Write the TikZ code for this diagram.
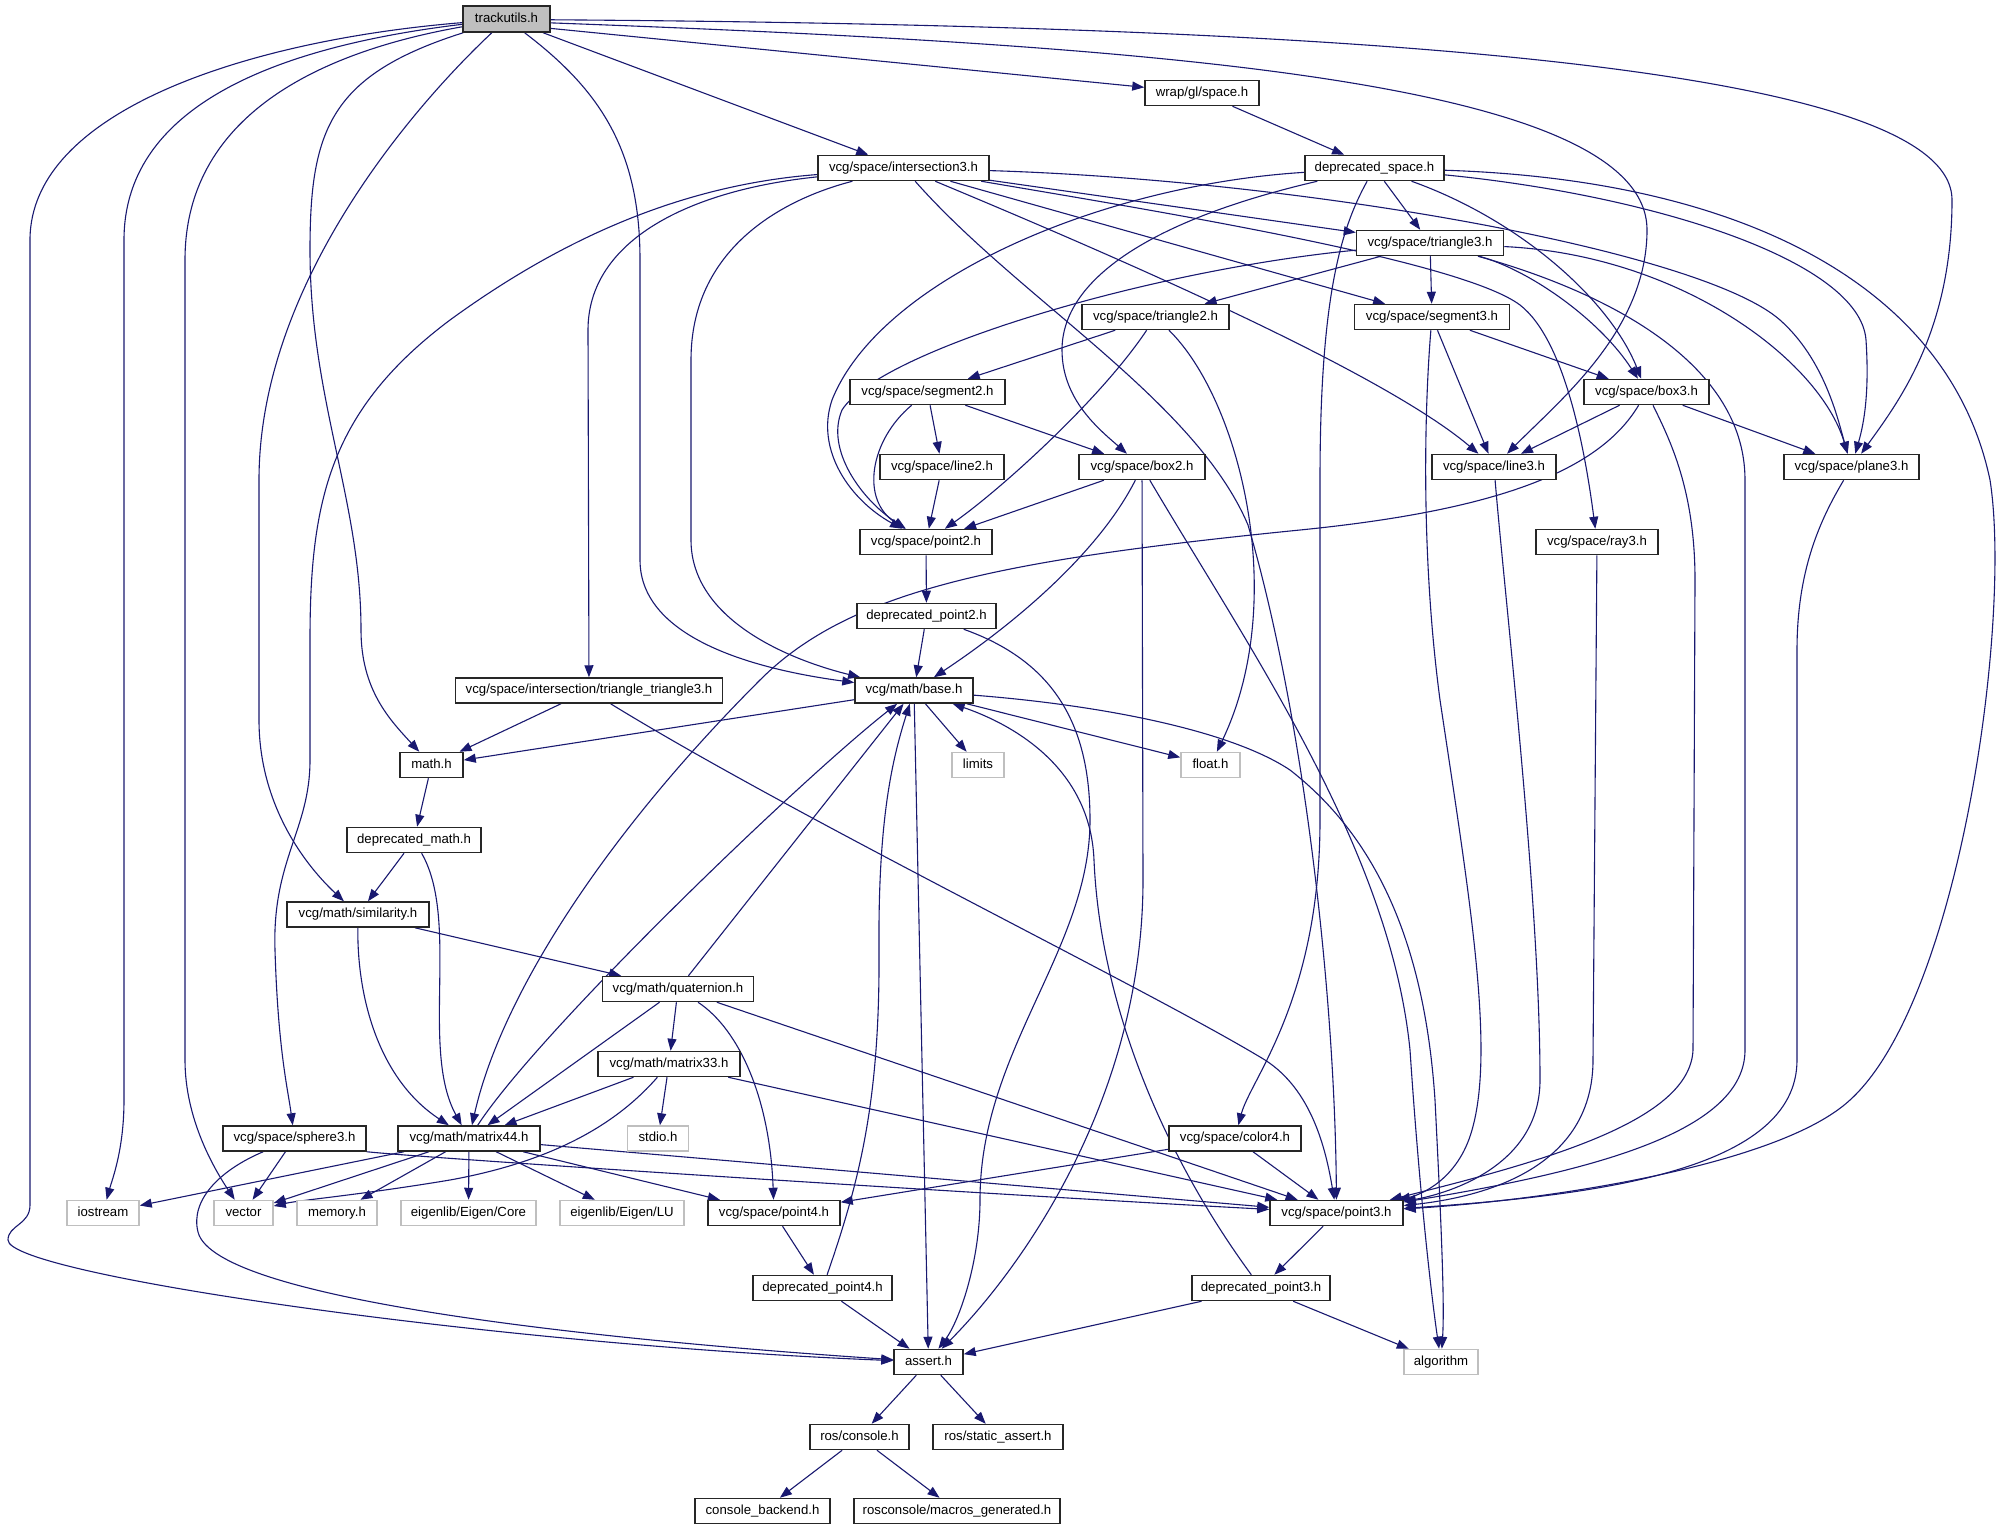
\documentclass[tikz,border=0pt]{standalone}
\usepackage{fontspec}
\setmainfont{Liberation Sans}
\usetikzlibrary{arrows.meta}
\pgfdeclarelayer{bg}
\pgfsetlayers{bg,main}
\definecolor{edgec}{HTML}{191970}
\definecolor{greyb}{HTML}{BFBFBF}
\begin{document}
\begin{tikzpicture}[x=1pt,y=-1pt,
  font=\fontsize{13.2}{15}\selectfont,
  nb/.style={draw=black!85, line width=1.5pt, fill=white, inner sep=0pt,
    minimum height=25pt, text height=9.6pt, text depth=2.8pt},
  ng/.style={nb, draw=greyb},
  edg/.style={draw=edgec, line width=1.1pt, -{Triangle[length=12pt,width=9pt]}}]
\useasboundingbox (0,0) rectangle (2016,1531);

\node[nb,fill=greyb,minimum width=87pt,minimum height=26pt] (tu) at (506.5,19) {trackutils.h};
\node[nb,minimum width=114pt] (wrap) at (1202,93) {wrap/gl/space.h};
\node[nb,minimum width=171pt] (i3) at (903.5,168) {vcg/space/intersection3.h};
\node[nb,minimum width=139pt] (ds) at (1374.5,168) {deprecated\_space.h};
\node[nb,minimum width=147pt] (tri3) at (1430,243) {vcg/space/triangle3.h};
\node[nb,minimum width=147pt] (tri2) at (1155.5,317) {vcg/space/triangle2.h};
\node[nb,minimum width=155pt] (seg3) at (1432,317) {vcg/space/segment3.h};
\node[nb,minimum width=155pt] (seg2) at (927.5,392) {vcg/space/segment2.h};
\node[nb,minimum width=125pt] (box3) at (1646.5,392) {vcg/space/box3.h};
\node[nb,minimum width=124pt] (line2) at (942,467) {vcg/space/line2.h};
\node[nb,minimum width=126pt] (box2) at (1142,467) {vcg/space/box2.h};
\node[nb,minimum width=124pt] (line3) at (1494,467) {vcg/space/line3.h};
\node[nb,minimum width=135pt] (plane3) at (1851.5,467) {vcg/space/plane3.h};
\node[nb,minimum width=132pt] (pt2) at (926,542) {vcg/space/point2.h};
\node[nb,minimum width=122pt] (ray3) at (1597,542) {vcg/space/ray3.h};
\node[nb,minimum width=139pt] (dpt2) at (926.5,616) {deprecated\_point2.h};
\node[nb,minimum width=267pt] (tt3) at (589,690.5) {vcg/space/intersection/triangle\_triangle3.h};
\node[nb,minimum width=118pt] (base) at (914,690.5) {vcg/math/base.h};
\node[nb,minimum width=63pt] (math) at (431.5,765) {math.h};
\node[ng,minimum width=52pt] (limits) at (978,765) {limits};
\node[ng,minimum width=59pt] (float) at (1210.5,765) {float.h};
\node[nb,minimum width=134pt] (dmath) at (414,840) {deprecated\_math.h};
\node[nb,minimum width=142pt] (sim) at (358,914.5) {vcg/math/similarity.h};
\node[nb,minimum width=151pt] (quat) at (678,989) {vcg/math/quaternion.h};
\node[nb,minimum width=142pt] (m33) at (669,1064) {vcg/math/matrix33.h};
\node[nb,minimum width=143pt] (sph3) at (294.5,1138.5) {vcg/space/sphere3.h};
\node[nb,minimum width=142pt] (m44) at (469,1138.5) {vcg/math/matrix44.h};
\node[ng,minimum width=61pt] (stdio) at (658,1138.5) {stdio.h};
\node[nb,minimum width=132pt] (col4) at (1235,1138.5) {vcg/space/color4.h};
\node[ng,minimum width=72pt] (iostream) at (103,1213) {iostream};
\node[ng,minimum width=59pt] (vector) at (243.5,1213) {vector};
\node[ng,minimum width=80pt] (memory) at (337,1213) {memory.h};
\node[ng,minimum width=135pt] (eigcore) at (468.5,1213) {eigenlib/Eigen/Core};
\node[ng,minimum width=124pt] (eiglu) at (622,1213) {eigenlib/Eigen/LU};
\node[nb,minimum width=132pt] (pt4) at (774,1213) {vcg/space/point4.h};
\node[nb,minimum width=133pt] (pt3) at (1336.5,1213) {vcg/space/point3.h};
\node[nb,minimum width=139pt] (dpt4) at (822.5,1288) {deprecated\_point4.h};
\node[nb,minimum width=138pt] (dpt3) at (1261,1288) {deprecated\_point3.h};
\node[nb,minimum width=69pt] (assert) at (928.5,1362) {assert.h};
\node[ng,minimum width=74pt] (algo) at (1441,1362) {algorithm};
\node[nb,minimum width=99pt] (rcon) at (859.5,1437) {ros/console.h};
\node[nb,minimum width=130pt] (rsa) at (998,1437) {ros/static\_assert.h};
\node[nb,minimum width=135pt] (cback) at (762.5,1511) {console\_backend.h};
\node[nb,minimum width=206pt] (rmac) at (957,1511) {rosconsole/macros\_generated.h};

\begin{pgfonlayer}{bg}
\fill[white] (0,0) rectangle (2016,1531);
% trackutils.h
\draw[edg] (tu.-12) -- (wrap);
\draw[edg] (tu) -- (i3);
\draw[edg] (tu.-5) .. controls (1150,45) and (1647,80) .. (1647,230) .. controls (1647,330) and (1560,400) .. (line3);
\draw[edg] (tu.-1) .. controls (1300,25) and (1952,60) .. (1952,200) .. controls (1952,330) and (1900,400) .. (plane3);
\draw[edg] (tu) .. controls (600,90) and (640,150) .. (640,260) -- (640,560) .. controls (640,640) and (760,670) .. (base);
\draw[edg] (tu) .. controls (330,75) and (310,130) .. (310,250) .. controls (310,400) and (361,500) .. (361,630) .. controls (361,690) and (390,720) .. (math);
\draw[edg] (tu) .. controls (420,100) and (259,280) .. (259,480) -- (259,720) .. controls (259,800) and (300,860) .. (sim);
\draw[edg] (tu) .. controls (250,40) and (30,110) .. (30,240) -- (30,1205) .. controls (30,1225) and (8,1225) .. (8,1240) .. controls (8,1275) and (500,1345) .. (assert);
\draw[edg] (tu) .. controls (290,45) and (124,100) .. (124,240) -- (124,1100) .. controls (124,1150) and (112,1180) .. (iostream);
\draw[edg] (tu) .. controls (330,50) and (185,110) .. (185,260) -- (185,1060) .. controls (185,1120) and (215,1170) .. (vector);
% wrap
\draw[edg] (wrap) -- (ds);
% intersection3
\draw[edg] (i3) -- (tri3);
\draw[edg] (i3) -- (seg3);
\draw[edg] (i3) .. controls (1100,250) and (1380,370) .. (line3);
\draw[edg] (i3) .. controls (1300,180) and (1700,250) .. (1780,320) .. controls (1825,360) and (1838,420) .. (plane3);
\draw[edg] (i3) .. controls (1150,210) and (1460,260) .. (1520,305) .. controls (1565,340) and (1585,450) .. (ray3);
\draw[edg] (i3) .. controls (1020,300) and (1195,400) .. (1248,525) .. controls (1305,720) and (1335,1000) .. (pt3);
\draw[edg] (i3) .. controls (780,200) and (691,250) .. (691,360) -- (691,540) .. controls (691,620) and (790,660) .. (base);
\draw[edg] (i3) .. controls (690,190) and (588,240) .. (588,330) -- (tt3);
\draw[edg] (i3) .. controls (680,185) and (560,240) .. (450,320) .. controls (330,410) and (310,500) .. (310,640) -- (310,760) .. controls (310,830) and (272,860) .. (275,950) .. controls (278,1050) and (288,1090) .. (sph3);
% deprecated_space
\draw[edg] (ds) -- (tri3);
\draw[edg] (ds) .. controls (1520,220) and (1610,300) .. (box3);
\draw[edg] (ds) .. controls (1650,195) and (1860,260) .. (1866,340) .. controls (1870,400) and (1862,430) .. (plane3);
\draw[edg] (ds) .. controls (1750,180) and (1950,290) .. (1990,480) .. controls (2012,620) and (1960,1000) .. (1850,1100) .. controls (1780,1165) and (1550,1200) .. (pt3);
\draw[edg] (ds) .. controls (1100,185) and (880,280) .. (832,400) .. controls (815,450) and (850,500) .. (pt2);
\draw[edg] (ds) .. controls (1150,220) and (1062,280) .. (1062,350) .. controls (1062,400) and (1100,430) .. (box2);
\draw[edg] (ds) .. controls (1340,230) and (1320,300) .. (1320,480) -- (1320,820) .. controls (1320,1000) and (1250,1080) .. (col4);
% triangle3
\draw[edg] (tri3) -- (seg3);
\draw[edg] (tri3) -- (tri2);
\draw[edg] (tri3) .. controls (1150,270) and (880,350) .. (842,410) .. controls (825,450) and (862,500) .. (pt2);
\draw[edg] (tri3) .. controls (1530,270) and (1600,320) .. (box3);
\draw[edg] (tri3) .. controls (1680,255) and (1820,360) .. (plane3);
\draw[edg] (tri3) .. controls (1600,290) and (1745,360) .. (1745,480) -- (1745,1050) .. controls (1745,1130) and (1600,1170) .. (pt3);
% segment3
\draw[edg] (seg3) -- (box3);
\draw[edg] (seg3) -- (line3);
\draw[edg] (seg3) .. controls (1425,400) and (1420,550) .. (1440,700) .. controls (1470,900) and (1495,1050) .. (1472,1130) .. controls (1458,1180) and (1420,1195) .. (pt3);
% box3
\draw[edg] (box3) -- (line3);
\draw[edg] (box3) -- (plane3);
\draw[edg] (box3) .. controls (1670,440) and (1695,490) .. (1695,580) -- (1693,1050) .. controls (1690,1120) and (1550,1160) .. (pt3);
\draw[edg] (box3) .. controls (1600,470) and (1500,510) .. (1300,530) .. controls (1000,560) and (850,590) .. (760,680) .. controls (600,840) and (500,1000) .. (m44);
% triangle2
\draw[edg] (tri2) -- (seg2);
\draw[edg] (tri2) .. controls (1100,400) and (1000,490) .. (pt2);
\draw[edg] (tri2) .. controls (1240,400) and (1290,600) .. (float);
% segment2
\draw[edg] (seg2) -- (line2);
\draw[edg] (seg2) -- (box2);
\draw[edg] (seg2) .. controls (870,440) and (860,500) .. (pt2);
\draw[edg] (line2) -- (pt2);
% box2
\draw[edg] (box2) -- (pt2);
\draw[edg] (box2) .. controls (1100,550) and (1020,620) .. (base);
\draw[edg] (box2) -- (1143,880) .. controls (1143,1100) and (1020,1270) .. (assert);
\draw[edg] (box2) .. controls (1250,650) and (1390,850) .. (1410,1050) .. controls (1420,1200) and (1432,1300) .. (algo);
% point2
\draw[edg] (pt2) -- (dpt2);
\draw[edg] (dpt2) -- (base);
\draw[edg] (dpt2) .. controls (1050,660) and (1090,720) .. (1090,820) .. controls (1090,950) and (980,1050) .. (980,1200) .. controls (980,1260) and (960,1320) .. (assert);
% line3 plane3 ray3
\draw[edg] (line3) .. controls (1505,600) and (1540,900) .. (1540,1080) .. controls (1540,1170) and (1440,1195) .. (pt3);
\draw[edg] (plane3) .. controls (1820,520) and (1797,570) .. (1797,650) -- (1797,1060) .. controls (1797,1170) and (1600,1195) .. (pt3);
\draw[edg] (ray3) -- (1593,1060) .. controls (1593,1160) and (1500,1195) .. (pt3);
% triangle_triangle3
\draw[edg] (tt3) -- (math);
\draw[edg] (tt3) .. controls (800,820) and (1150,990) .. (1265,1060) .. controls (1312,1090) and (1326,1150) .. (pt3);
% base
\draw[edg] (base) -- (math);
\draw[edg] (base) -- (limits);
\draw[edg] (base) -- (float);
\draw[edg] (base) -- (assert);
\draw[edg] (base) .. controls (1100,705) and (1230,730) .. (1290,770) .. controls (1380,840) and (1425,950) .. (1435,1100) .. controls (1440,1200) and (1445,1300) .. (algo);
% math chain
\draw[edg] (math) -- (dmath);
\draw[edg] (dmath) -- (sim);
\draw[edg] (dmath) .. controls (460,920) and (420,1050) .. (m44);
\draw[edg] (sim) -- (quat);
\draw[edg] (sim) .. controls (357,1000) and (380,1080) .. (m44);
% quaternion
\draw[edg] (quat) -- (base);
\draw[edg] (quat) -- (m33);
\draw[edg] (quat) -- (m44);
\draw[edg] (quat) .. controls (740,1030) and (770,1100) .. (pt4);
\draw[edg] (quat) -- (pt3);
% matrix33
\draw[edg] (m33) -- (m44);
\draw[edg] (m33) -- (stdio);
\draw[edg] (m33) .. controls (620,1120) and (560,1160) .. (450,1180) .. controls (360,1195) and (300,1200) .. (vector);
\draw[edg] (m33) -- (pt3);
% matrix44
\draw[edg] (m44) .. controls (540,1030) and (800,780) .. (base);
\draw[edg] (m44) -- (iostream);
\draw[edg] (m44) -- (vector);
\draw[edg] (m44) -- (memory);
\draw[edg] (m44) -- (eigcore);
\draw[edg] (m44) -- (eiglu);
\draw[edg] (m44) -- (pt4);
\draw[edg] (m44) -- (pt3);
% sphere3
\draw[edg] (sph3) -- (vector);
\draw[edg] (sph3.south east) .. controls (450,1160) and (1000,1195) .. (pt3);
\draw[edg] (sph3) .. controls (220,1170) and (190,1200) .. (198,1232) .. controls (215,1300) and (600,1340) .. (assert);
% color4
\draw[edg] (col4) -- (pt4);
\draw[edg] (col4) -- (pt3);
% lower
\draw[edg] (pt4) -- (dpt4);
\draw[edg] (dpt4) .. controls (860,1180) and (880,1100) .. (879,950) .. controls (878,820) and (892,760) .. (base);
\draw[edg] (dpt4) -- (assert);
\draw[edg] (pt3) -- (dpt3);
\draw[edg] (dpt3) .. controls (1160,1150) and (1100,1000) .. (1094,860) .. controls (1090,760) and (1000,720) .. (base);
\draw[edg] (dpt3) -- (assert);
\draw[edg] (dpt3) -- (algo);
\draw[edg] (assert) -- (rcon);
\draw[edg] (assert) -- (rsa);
\draw[edg] (rcon) -- (cback);
\draw[edg] (rcon) -- (rmac);
\end{pgfonlayer}
\end{tikzpicture}
\end{document}
